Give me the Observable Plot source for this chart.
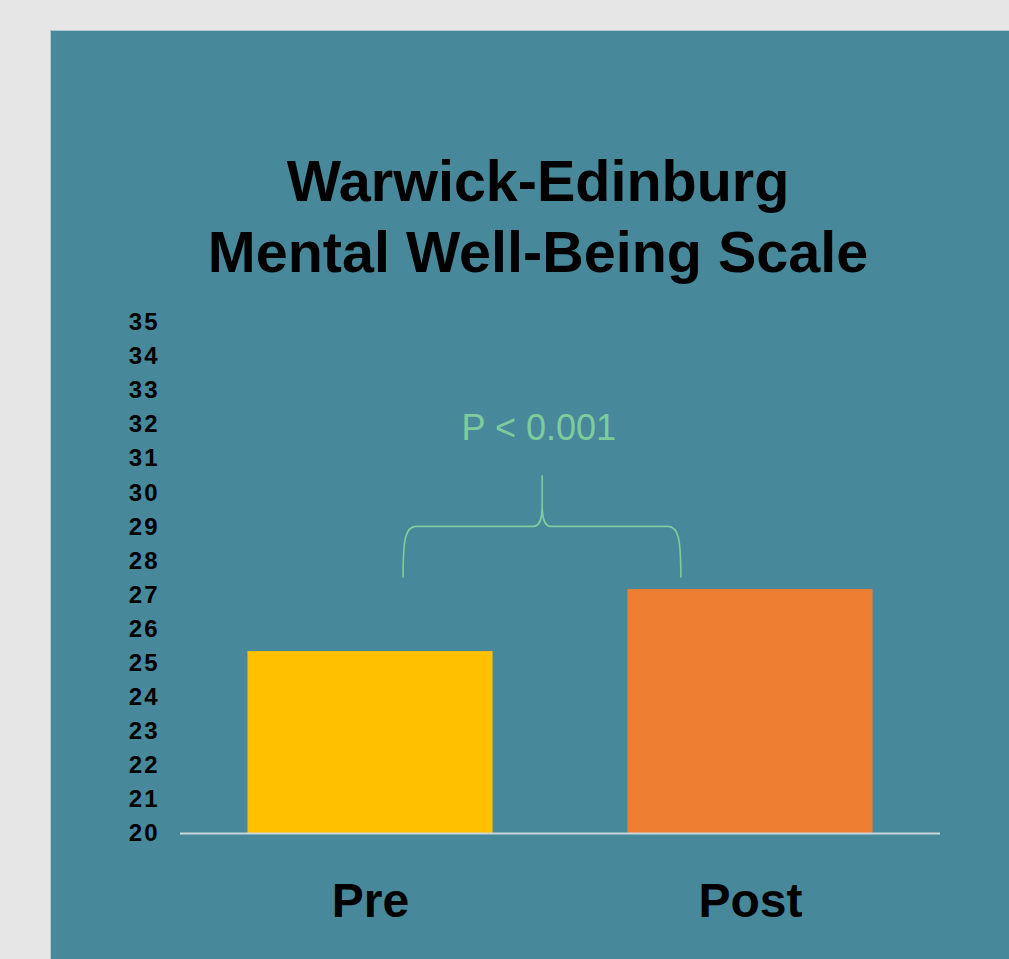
<!DOCTYPE html>
<html><head><meta charset="utf-8">
<script src="https://cdn.jsdelivr.net/npm/d3@7"></script>
<script src="https://cdn.jsdelivr.net/npm/@observablehq/plot@0.6"></script>
<style>
html,body{margin:0;padding:0;overflow:hidden;background:#e6e6e6;width:1009px;height:959px;}
#panel{position:absolute;left:50px;top:30px;width:976px;height:960px;background:#47899b;box-shadow:inset 1px 1px 0 #b3c8cd;}
#title{position:absolute;left:0;top:116px;width:100%;text-align:center;font-family:"Liberation Sans",Arial,sans-serif;font-weight:bold;font-size:57.5px;line-height:71px;color:#000;margin:0;}
#chart{position:absolute;left:0;top:259px;}
#chart g[aria-label="y-axis tick label"] text{letter-spacing:2px;}
</style></head>
<body><div id="panel"><h1 id="title">Warwick-Edinburg<br>Mental Well-Being Scale</h1><div id="chart"></div></div>
<script>
const categories = ["Pre", "Post"];
const scores = [25.34, 27.16];
const barColors = ["#ffc000", "#ed7d31"];
const yTicks = [20, 21, 22, 23, 24, 25, 26, 27, 28, 29, 30, 31, 32, 33, 34, 35];
const pLabel = "P < 0.001";
const braceX = [0.587, 0.953, 1.318];   // left arm, peak, right arm (x units, categories at 0.5 / 1.5)
const braceY = [27.5, 29.0, 30.5];      // arm bottom, arm top, peak
const labelX = [0.943];
const labelY = [31.9];

const green = "#7ecc9d";
const halfBar = 0.3225;
const data = categories.map((c, i) => ({cat: c, pos: i + 0.5, score: scores[i]}));

function braceMark(index, scales) {
  const x = scales.x, y = scales.y;
  const xl = x(braceX[0]), xm = x(braceX[1]), xr = x(braceX[2]);
  const yb = y(braceY[0]), yh = y(braceY[1]), yt = y(braceY[2]);
  const p = d3.path();
  p.moveTo(xl, yb);
  p.bezierCurveTo(xl, yh + 14, xl + 2, yh, xl + 13, yh);
  p.lineTo(xm - 9, yh);
  p.bezierCurveTo(xm - 2, yh, xm, yh - 8, xm, yh - 22);
  p.lineTo(xm, yt);
  p.moveTo(xm, yh - 22);
  p.bezierCurveTo(xm, yh - 8, xm + 2, yh, xm + 9, yh);
  p.lineTo(xr - 13, yh);
  p.bezierCurveTo(xr - 2, yh, xr, yh + 14, xr, yb);
  const path = document.createElementNS("http://www.w3.org/2000/svg", "path");
  path.setAttribute("d", p.toString());
  path.setAttribute("fill", "none");
  path.setAttribute("stroke", green);
  path.setAttribute("stroke-width", "1.6");
  return path;
}

const chart = Plot.plot({
  width: 976,
  height: 670,
  marginLeft: 130,
  marginRight: 86,
  marginTop: 33,
  marginBottom: 126,
  style: {background: "transparent", color: "#000", fontFamily: "'Liberation Sans', Arial, sans-serif", overflow: "visible"},
  x: {domain: [0, 2], axis: null},
  y: {domain: [20, 35], axis: null},
  color: {domain: categories, range: barColors},
  marks: [
    Plot.rectY(data, {x1: d => d.pos - halfBar, x2: d => d.pos + halfBar, y1: 20, y2: "score", fill: "cat"}),
    Plot.ruleY([20], {stroke: "#c9d6da", strokeWidth: 2}),
    Plot.axisY({ticks: yTicks, tickSize: 0, tickPadding: 21, fontSize: 24, fontWeight: "bold", label: null, fill: "#000"}),
    Plot.axisX({ticks: data.map(d => d.pos), tickFormat: d => categories[Math.floor(d)], tickSize: 0, tickPadding: 49, fontSize: 48, fontWeight: "bold", label: null, fill: "#000"}),
    Plot.text([pLabel], {x: () => labelX[0], y: () => labelY[0], text: d => d, fill: green, fontSize: 36}),
    braceMark
  ]
});
document.getElementById("chart").appendChild(chart);
</script>
</body></html>
